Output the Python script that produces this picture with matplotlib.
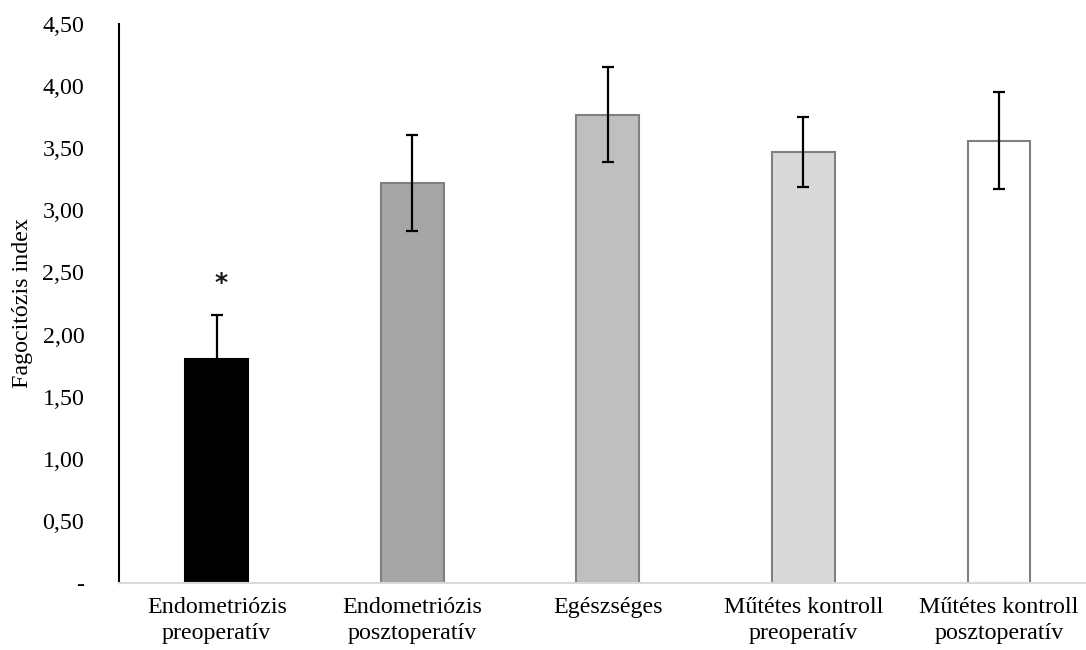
import numpy as np
import matplotlib.pyplot as plt
import matplotlib.ticker as ticker

groups = ["Endometriózis\npreoperatív", "Endometriózis\nposztoperatív", "Egészséges",
          "Műtétes kontroll\npreoperatív", "Műtétes kontroll\nposztoperatív"]
means = [1.80, 3.22, 3.77, 3.47, 3.56]
sds = [0.36, 0.39, 0.38, 0.28, 0.39]
fills = ['#000000', '#a6a6a6', '#bfbfbf', '#d9d9d9', '#ffffff']
edges = ['#000000', '#808080', '#808080', '#808080', '#808080']

plt.rc('font', family='Liberation Serif', size=17.3)

fig = plt.figure(figsize=(10.86, 6.5), dpi=100)
ax = fig.add_axes([119/1086, 67/650, 967/1086, 559/650])

x = np.arange(len(groups))
ax.bar(x, means, width=0.32, color=fills, edgecolor=edges, linewidth=1.5, zorder=2)
ax.errorbar(x, means, yerr=sds, fmt='none', ecolor='black', elinewidth=1.6,
            capsize=4.5, capthick=1.6, zorder=3)

# significance mark over the first group
ax.text(x[0] + 0.02, means[0] + sds[0] + 0.16, '*', ha='center', va='bottom',
        fontsize=18, fontweight='bold', family='DejaVu Sans', color='#1a1a1a')

ax.set_xlim(-0.5, 4.446)
ax.set_ylim(0, 4.5)
ax.set_yticks(np.arange(0, 4.51, 0.5))
ax.yaxis.set_major_formatter(ticker.FuncFormatter(
    lambda y, pos: '-' if y == 0 else '{:.2f}'.format(y).replace('.', ',')))
ax.set_xticks(x)
ax.set_xticklabels(groups, linespacing=1.35)
ax.tick_params(axis='both', length=0)
ax.tick_params(axis='y', pad=25)
ax.tick_params(axis='x', pad=10)
ax.set_ylabel('Fagocitózis index')
ax.yaxis.set_label_coords(-0.089, 0.5)

for s in ['top', 'right']:
    ax.spines[s].set_visible(False)
ax.spines['left'].set_color('black')
ax.spines['left'].set_linewidth(1.5)
ax.spines['bottom'].set_color('#d9d9d9')
ax.spines['bottom'].set_linewidth(1.5)

plt.savefig('out.png', dpi=100)
